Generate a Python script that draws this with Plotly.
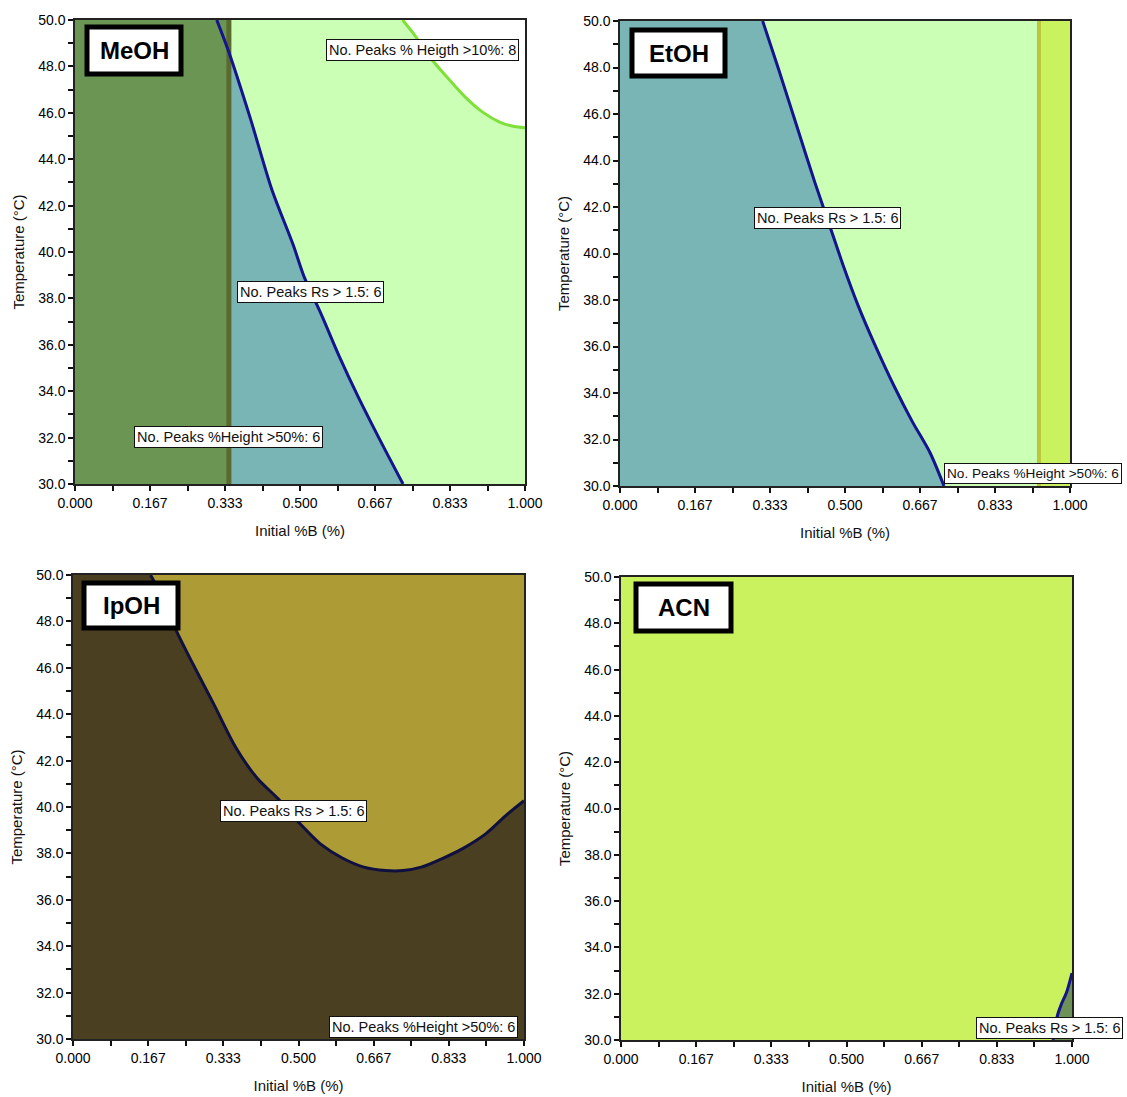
import plotly.graph_objects as go

W, H = 1127, 1097

# ---------------- data ----------------
X_RANGE = [0.0, 1.0]
Y_RANGE = [30.0, 50.0]
x_tickvals = [0, 1/6, 1/3, 0.5, 2/3, 5/6, 1]
x_ticktext = ["0.000", "0.167", "0.333", "0.500", "0.667", "0.833", "1.000"]
x_minor = [1/12, 3/12, 5/12, 7/12, 9/12, 11/12]
y_tickvals = [30, 32, 34, 36, 38, 40, 42, 44, 46, 48, 50]
y_ticktext = ["30.0", "32.0", "34.0", "36.0", "38.0", "40.0", "42.0", "44.0", "46.0", "48.0", "50.0"]
y_minor = [31, 33, 35, 37, 39, 41, 43, 45, 47, 49]

# MeOH
meoh_rs_x = [0.315, 0.342, 0.390, 0.437, 0.485, 0.509, 0.548, 0.588, 0.628, 0.675, 0.729]
meoh_rs_y = [50.0, 48.61, 45.74, 42.72, 40.30, 38.94, 37.28, 35.47, 33.81, 32.0, 30.0]
meoh_h10_x = [0.728, 0.754, 0.786, 0.826, 0.865, 0.905, 0.945, 0.976, 1.0]
meoh_h10_y = [50.0, 49.37, 48.46, 47.55, 46.72, 46.04, 45.59, 45.41, 45.36]
meoh_h50_x = 0.342

# EtOH
etoh_rs_x = [0.317, 0.353, 0.393, 0.433, 0.465, 0.497, 0.529, 0.569, 0.609, 0.649, 0.689, 0.720]
etoh_rs_y = [50.0, 47.89, 45.47, 43.06, 41.25, 39.43, 37.77, 35.96, 34.30, 32.79, 31.43, 30.0]
etoh_h50_x = 0.931

# IpOH
ipoh_rs_x = [0.172, 0.194, 0.230, 0.265, 0.313, 0.360, 0.408, 0.455, 0.503, 0.550, 0.598,
             0.645, 0.693, 0.732, 0.772, 0.820, 0.867, 0.915, 0.962, 1.0]
ipoh_rs_y = [50.0, 49.2, 47.56, 46.2, 44.4, 42.6, 41.25, 40.35, 39.29, 38.39, 37.79,
             37.41, 37.26, 37.26, 37.41, 37.79, 38.24, 38.84, 39.67, 40.27]

# ACN
acn_rs_x = [0.958, 0.968, 0.976, 0.988, 1.0]
acn_rs_y = [30.0, 31.08, 31.53, 32.06, 32.89]

panel_names = ["MeOH", "EtOH", "IpOH", "ACN"]

# ---------------- layout geometry (pixels) ----------------
plot_px = {  # left, right, top, bottom
    1: (75, 525, 20, 484),
    2: (620, 1070, 21, 486),
    3: (73, 524, 575, 1039),
    4: (621, 1072, 577, 1040),
}
title_box_px = {
    1: (87, 181, 27, 74),
    2: (632, 725, 30, 76),
    3: (84, 178, 583, 628),
    4: (636, 731, 584, 631),
}

def px_x(p):
    return p / W

def px_y(p):
    return 1 - p / H

fig = go.Figure()

def sfx(i):
    return "" if i == 1 else str(i)

def rect_xy(x0, x1, y0, y1):
    return [x0, x1, x1, x0, x0], [y0, y0, y1, y1, y0]

def add_fill(i, xs, ys, color):
    fig.add_trace(go.Scatter(x=xs, y=ys, mode="lines", fill="toself", fillcolor=color,
                             line=dict(width=0, color=color), hoverinfo="skip",
                             showlegend=False, xaxis="x" + sfx(i), yaxis="y" + sfx(i)))

def add_line(i, xs, ys, color, width, shape="spline"):
    fig.add_trace(go.Scatter(x=xs, y=ys, mode="lines",
                             line=dict(width=width, color=color, shape=shape, smoothing=0.8),
                             hoverinfo="skip", showlegend=False,
                             xaxis="x" + sfx(i), yaxis="y" + sfx(i)))

LIGHT_GREEN = "#cbffb6"
TEAL = "#79b5b5"
DARK_GREEN = "#6a9552"
OLIVE_LINE = "#5a6a2e"
BLUE_LINE = "#14148e"
GREEN_LINE = "#7fe03a"
YG = "#c9f25e"
YG_LINE = "#bcc63a"
GOLD = "#ad9b35"
BROWN = "#4b3f22"

x0, x1 = X_RANGE
y0, y1 = Y_RANGE

# Panel 1: MeOH
add_fill(1, *rect_xy(x0, x1, y0, y1), LIGHT_GREEN)
add_fill(1, [x0] + meoh_rs_x + [x0, x0], [y1] + meoh_rs_y + [y0, y1], TEAL)
add_fill(1, *rect_xy(x0, meoh_h50_x, y0, y1), DARK_GREEN)
add_line(1, [meoh_h50_x, meoh_h50_x], [y0, y1], OLIVE_LINE, 5, "linear")
add_fill(1, meoh_h10_x + [x1, meoh_h10_x[0]], meoh_h10_y + [y1, meoh_h10_y[0]], "#ffffff")
add_line(1, meoh_h10_x, meoh_h10_y, GREEN_LINE, 3)
add_line(1, meoh_rs_x, meoh_rs_y, BLUE_LINE, 3)

# Panel 2: EtOH
add_fill(2, *rect_xy(x0, x1, y0, y1), LIGHT_GREEN)
add_fill(2, [x0] + etoh_rs_x + [x0, x0], [y1] + etoh_rs_y + [y0, y1], TEAL)
add_fill(2, *rect_xy(etoh_h50_x, x1, y0, y1), YG)
add_line(2, [etoh_h50_x, etoh_h50_x], [y0, y1], YG_LINE, 4, "linear")
add_line(2, etoh_rs_x, etoh_rs_y, BLUE_LINE, 3)

# Panel 3: IpOH
add_fill(3, *rect_xy(x0, x1, y0, y1), GOLD)
add_fill(3, [x0, x0] + ipoh_rs_x + [x1, x0], [y0, y1] + ipoh_rs_y + [y0, y0], BROWN)
add_line(3, ipoh_rs_x, ipoh_rs_y, "#101040", 3)

# Panel 4: ACN
add_fill(4, *rect_xy(x0, x1, y0, y1), YG)
add_fill(4, acn_rs_x + [x1, acn_rs_x[0]], acn_rs_y + [y0, acn_rs_y[0]], "#6d9157")
add_line(4, acn_rs_x, acn_rs_y, BLUE_LINE, 3)

# ---------------- axes ----------------
tick_font = dict(family="Liberation Sans, Arial, sans-serif", size=14, color="#000")
title_font = dict(family="Liberation Sans, Arial, sans-serif", size=15, color="#111")
layout_axes = {}
for i in range(1, 5):
    l, r, t, b = plot_px[i]
    layout_axes["xaxis" + sfx(i)] = dict(
        domain=[px_x(l), px_x(r)], range=X_RANGE, anchor="y" + sfx(i), automargin=False,
        tickmode="array", tickvals=x_tickvals, ticktext=x_ticktext,
        ticks="outside", ticklen=5, tickwidth=1.5, tickcolor="#111",
        minor=dict(tickmode="array", tickvals=x_minor, ticks="outside", ticklen=5,
                   tickwidth=1.5, tickcolor="#111"),
        showline=True, linecolor="#222", linewidth=1.5, mirror=True,
        showgrid=False, zeroline=False, tickfont=tick_font,
        title=dict(text="Initial %B (%)", font=title_font, standoff=16),
    )
    layout_axes["yaxis" + sfx(i)] = dict(
        domain=[px_y(b), px_y(t)], range=Y_RANGE, anchor="x" + sfx(i), automargin=False,
        tickmode="array", tickvals=y_tickvals, ticktext=y_ticktext,
        ticks="outside", ticklen=5, tickwidth=1.5, tickcolor="#111",
        minor=dict(tickmode="array", tickvals=y_minor, ticks="outside", ticklen=5,
                   tickwidth=1.5, tickcolor="#111"),
        showline=True, linecolor="#222", linewidth=1.5, mirror=True,
        showgrid=False, zeroline=False, tickfont=tick_font,
        title=dict(text="Temperature (°C)", font=title_font, standoff=10),
    )

# ---------------- annotations ----------------
labels = [
    (1, 0.773, 48.70, "No. Peaks % Heigth >10%: 8", "center", 14.5),
    (1, 0.524, 38.29, "No. Peaks Rs > 1.5: 6", "center", 14.5),
    (1, 0.342, 32.03, "No. Peaks %Height >50%: 6", "center", 14.5),
    (2, 0.460, 41.53, "No. Peaks Rs > 1.5: 6", "center", 14.5),
    (2, 0.720, 30.52, "No. Peaks %Height >50%: 6", "left", 13.6),
    (3, 0.488, 39.81, "No. Peaks Rs > 1.5: 6", "center", 14.5),
    (3, 0.778, 30.52, "No. Peaks %Height >50%: 6", "center", 14.5),
    (4, 0.950, 30.52, "No. Peaks Rs > 1.5: 6", "center", 14.5),
]
annotations = []
for i, x, y, txt, anc, fs in labels:
    annotations.append(dict(
        x=x, y=y, xref="x" + sfx(i), yref="y" + sfx(i), text=txt, showarrow=False,
        xanchor=anc, yanchor="middle",
        font=dict(family="Liberation Sans, Arial, sans-serif", size=fs, color="#111"),
        bgcolor="#ffffff", bordercolor="#111", borderwidth=1, borderpad=2,
    ))

shapes = []
for i, name in enumerate(panel_names, start=1):
    l, r, t, b = title_box_px[i]
    shapes.append(dict(type="rect", xref="paper", yref="paper",
                       x0=px_x(l), x1=px_x(r), y0=px_y(b), y1=px_y(t),
                       line=dict(color="#000", width=5), fillcolor="#ffffff", layer="above"))
    annotations.append(dict(
        x=px_x((l + r) / 2), y=px_y((t + b) / 2), xref="paper", yref="paper",
        text="<b>" + name + "</b>", showarrow=False, xanchor="center", yanchor="middle",
        font=dict(family="Liberation Sans, Arial, sans-serif", size=24, color="#000"),
    ))

fig.update_layout(
    width=W, height=H, margin=dict(l=0, r=0, t=0, b=0), autosize=False,
    paper_bgcolor="#ffffff", plot_bgcolor="#ffffff",
    showlegend=False, annotations=annotations, shapes=shapes,
    **layout_axes,
)

fig.write_html("out.html")
